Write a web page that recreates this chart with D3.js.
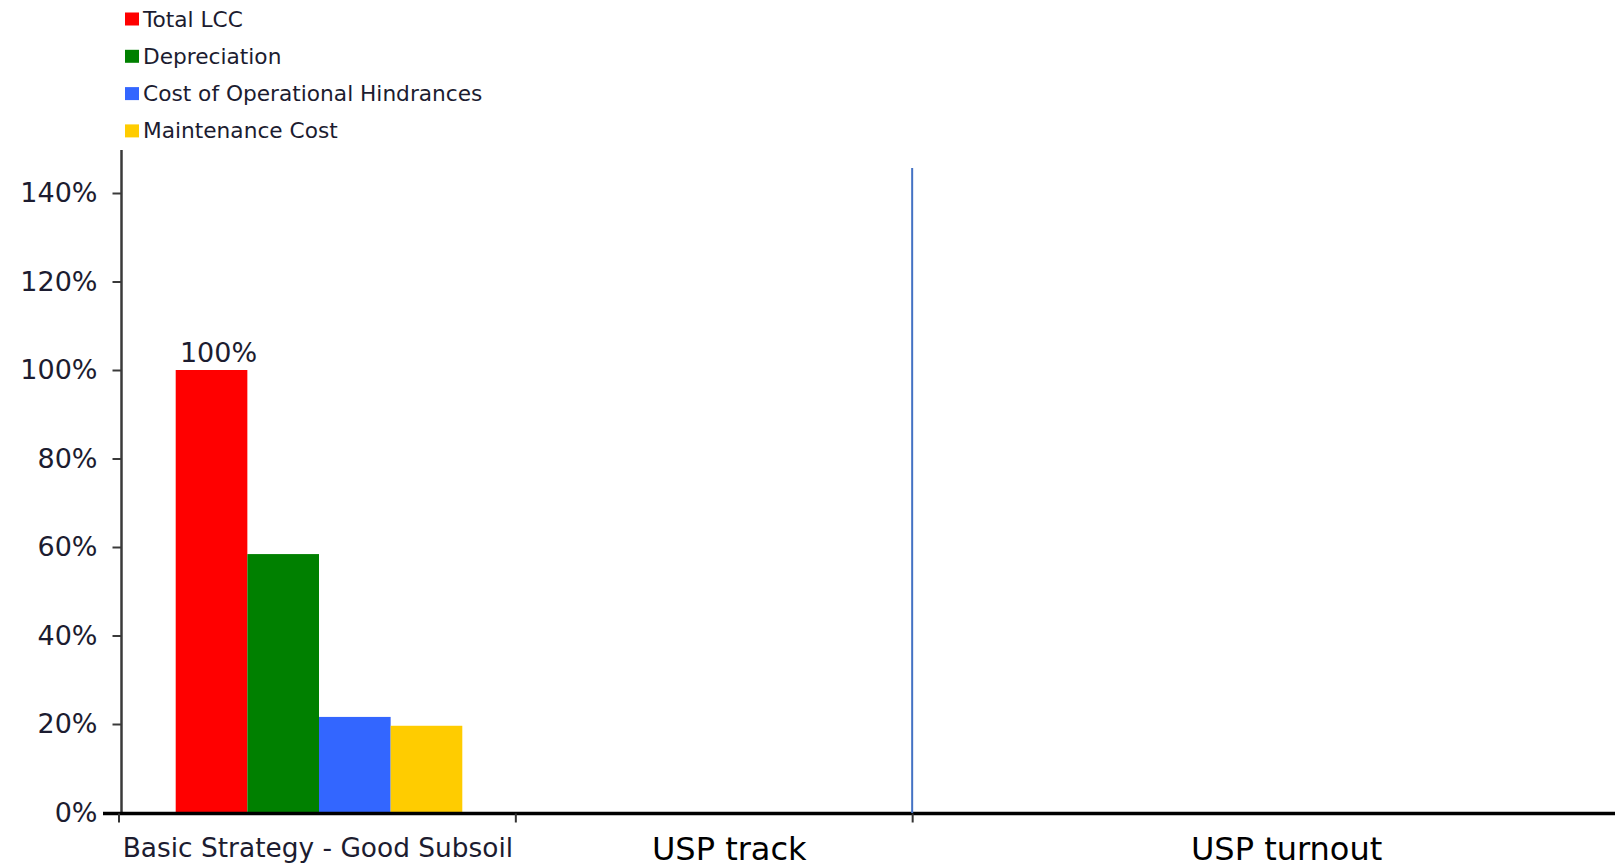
<!DOCTYPE html>
<html>
<head>
<meta charset="utf-8">
<script src="https://cdn.jsdelivr.net/npm/d3@7"></script>
<style>
  html, body { margin: 0; padding: 0; background: #fff; }
  svg { display: block; }
  text { font-family: "DejaVu Sans", Verdana, sans-serif; }
</style>
</head>
<body>
<svg id="chart" width="1617" height="866"></svg>
<script>
// ---- data ----
const categories = ["Basic Strategy - Good Subsoil", "USP track", "USP turnout"];
const seriesNames = ["Total LCC", "Depreciation", "Cost of Operational Hindrances", "Maintenance Cost"];
const seriesColors = ["#ff0000", "#008000", "#3366ff", "#ffcc00"];
// values in % per category (only the first category has data)
const totalLCC      = [100, null, null];
const depreciation  = [58.4, null, null];
const operational   = [21.6, null, null];
const maintenance   = [19.6, null, null];
const yTicks = [0, 20, 40, 60, 80, 100, 120, 140];
const seriesValues = [totalLCC, depreciation, operational, maintenance];

// ---- layout ----
const svg = d3.select("#chart");
const x0 = 119.5, x1 = 1310;
const yBottom = 812.5, yTopPx = 148.75;

const x = d3.scaleBand().domain(categories).range([x0, x1]).paddingInner(0).paddingOuter(0);
const xSub = d3.scaleBand().domain(seriesNames).range([56.2, 342.8]).padding(0);
const y = d3.scaleLinear().domain([0, 150]).range([yBottom, yTopPx]);

// bars
const barData = [];
categories.forEach((c, ci) => {
  seriesNames.forEach((s, si) => {
    const v = seriesValues[si][ci];
    if (v != null) barData.push({cat: c, series: s, value: v, color: seriesColors[si], si});
  });
});

svg.append("g").selectAll("rect").data(barData).join("rect")
  .attr("x", d => x(d.cat) + xSub(d.series))
  .attr("width", xSub.bandwidth())
  .attr("y", d => y(d.value))
  .attr("height", d => y(0) - y(d.value))
  .attr("fill", d => d.color);

// value label on Total LCC
svg.append("g").selectAll("text").data(barData.filter(d => d.si === 0)).join("text")
  .attr("x", d => x(d.cat) + xSub(d.series) + xSub.bandwidth() / 2 + 7)
  .attr("y", d => y(d.value) - 8.5)
  .attr("text-anchor", "middle")
  .attr("font-size", 27)
  .attr("fill", "#1c1c30")
  .text(d => d.value + "%");

// y axis
const yAxisG = svg.append("g").attr("transform", "translate(121.5,0)");
const yAxis = d3.axisLeft(y).tickValues(yTicks).tickFormat(d => d + "%").tickSize(9).tickPadding(15);
yAxisG.call(yAxis);
yAxisG.select(".domain").remove();
yAxisG.append("line").attr("x1", 0).attr("x2", 0).attr("y1", 150).attr("y2", 813)
  .attr("stroke", "#3a3a3a").attr("stroke-width", 2.5);
yAxisG.selectAll(".tick line").attr("stroke", "#3a3a3a").attr("stroke-width", 2);
yAxisG.selectAll(".tick text")
  .attr("font-size", 27).attr("fill", "#1c1c30")
  .attr("font-family", "DejaVu Sans, Verdana, sans-serif");

// x axis
const xAxisG = svg.append("g").attr("transform", "translate(0,813.5)");
xAxisG.append("line").attr("x1", 103).attr("x2", 1615).attr("y1", 0).attr("y2", 0)
  .attr("stroke", "#000").attr("stroke-width", 3.5);
xAxisG.selectAll("line.xtick").data(categories).join("line")
  .attr("class", "xtick")
  .attr("x1", d => x(d) - 0.5).attr("x2", d => x(d) - 0.5)
  .attr("y1", 0).attr("y2", 9)
  .attr("stroke", "#333").attr("stroke-width", 2);

// blue separator line
svg.append("line")
  .attr("x1", x(categories[2]) - 1).attr("x2", x(categories[2]) - 1)
  .attr("y1", 168).attr("y2", 813)
  .attr("stroke", "#4472c4").attr("stroke-width", 2);

// category labels
const labelStyle = [
  {dx: 0, size: 26.4, color: "#1c1c30"},
  {dx: 14.5, size: 32, color: "#000"},
  {dx: 175, size: 32, color: "#000"}
];
svg.append("g").selectAll("text").data(categories).join("text")
  .attr("x", (d, i) => x(d) + x.bandwidth() / 2 + labelStyle[i].dx)
  .attr("y", (d, i) => i === 0 ? 856.5 : 860)
  .attr("text-anchor", "middle")
  .attr("font-size", (d, i) => labelStyle[i].size)
  .attr("fill", (d, i) => labelStyle[i].color)
  .text(d => d);

// legend
const legend = svg.append("g").selectAll("g").data(seriesNames).join("g")
  .attr("transform", (d, i) => `translate(125,${19 + i * 37.3})`);
legend.append("rect").attr("x", 0).attr("y", -6.5).attr("width", 14).attr("height", 13)
  .attr("fill", (d, i) => seriesColors[i]);
legend.append("text").attr("x", 18).attr("y", 7.5)
  .attr("font-size", 21.7).attr("fill", "#1c1c30")
  .text(d => d);
</script>
</body>
</html>
